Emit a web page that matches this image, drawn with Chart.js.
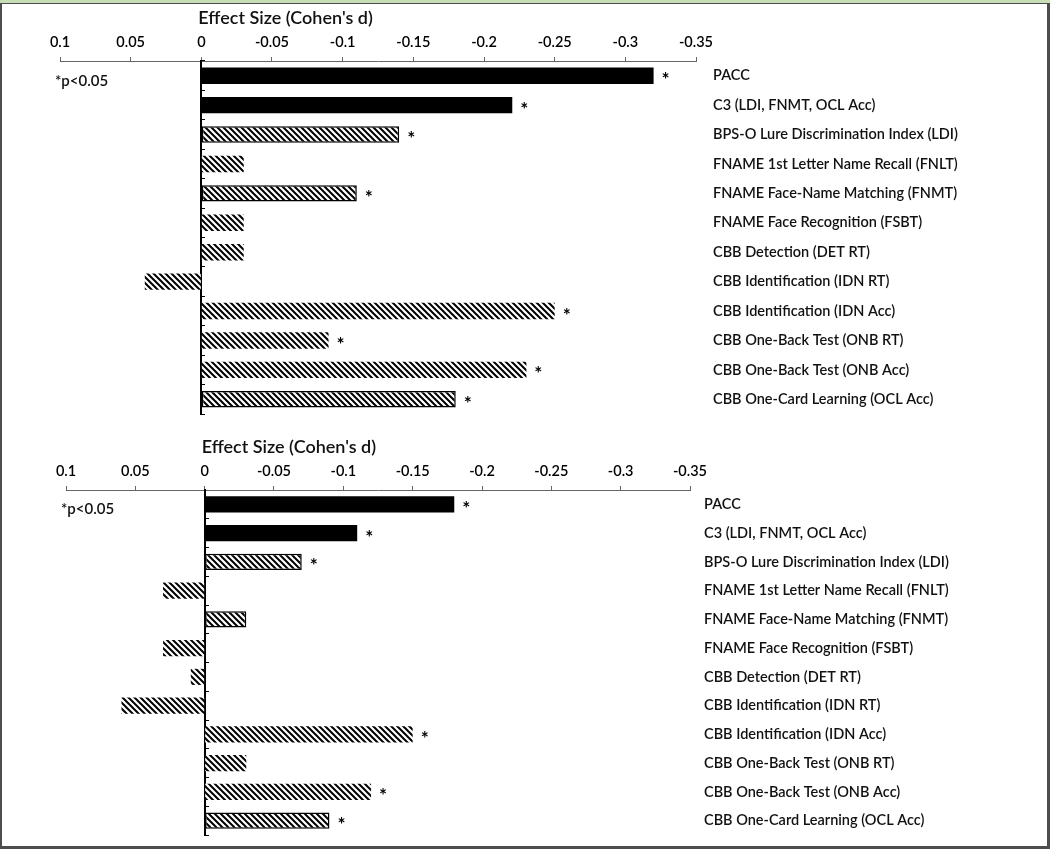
<!DOCTYPE html>
<html>
<head>
<meta charset="utf-8">
<script src="https://cdn.jsdelivr.net/npm/chart.js@4.4.1/dist/chart.umd.min.js"></script>
<style>
  html, body { margin: 0; padding: 0; background: #fff; }
  body { width: 1050px; height: 849px; position: relative; overflow: hidden; }
  #strip { position: absolute; left: 0; top: 0; width: 1050px; height: 3px; background: #c9deb5; }
  #frame { position: absolute; left: 0; top: 3px; width: 1050px; height: 846px; box-sizing: border-box;
           border-style: solid; border-color: #4d4d4d; border-width: 1px 3px 3px 2px; }
  canvas { position: absolute; left: 0; }
</style>
</head>
<body>
<div id="strip"></div>
<div id="frame"></div>
<canvas id="topChart" width="1050" height="425" style="top:0"></canvas>
<canvas id="bottomChart" width="1050" height="421" style="top:425px"></canvas>
<script>
const categories = [
  'PACC',
  'C3 (LDI, FNMT, OCL Acc)',
  'BPS-O Lure Discrimination Index (LDI)',
  'FNAME 1st Letter Name Recall (FNLT)',
  'FNAME Face-Name Matching (FNMT)',
  'FNAME Face Recognition (FSBT)',
  'CBB Detection (DET RT)',
  'CBB Identification (IDN RT)',
  'CBB Identification (IDN Acc)',
  'CBB One-Back Test (ONB RT)',
  'CBB One-Back Test (ONB Acc)',
  'CBB One-Card Learning (OCL Acc)'
];
// composite scores, the C3 parts, and the rest
const measureType = ['composite', 'composite', 'component', 'other', 'component', 'other',
                     'other', 'other', 'other', 'other', 'other', 'component'];

const topValues = [-0.32, -0.22, -0.14, -0.03, -0.11, -0.03, -0.03, 0.04, -0.25, -0.09, -0.23, -0.18];
const topSignificant = [true, true, true, false, true, false, false, false, true, true, true, true];

const bottomValues = [-0.18, -0.11, -0.07, 0.03, -0.03, 0.03, 0.01, 0.06, -0.15, -0.03, -0.12, -0.09];
const bottomSignificant = [true, true, true, false, false, false, false, false, true, false, true, true];

const tickValues = [0.1, 0.05, 0, -0.05, -0.1, -0.15, -0.2, -0.25, -0.3, -0.35];
const axisTitle = "Effect Size (Cohen's d)";
const noteText = '*p<0.05';

function hatchPattern() {
  const c = document.createElement('canvas');
  c.width = c.height = 6;
  const g = c.getContext('2d');
  g.fillStyle = '#fff';
  g.fillRect(0, 0, 6, 6);
  g.strokeStyle = '#000';
  g.lineWidth = 2;
  g.beginPath();
  g.moveTo(-1, -1); g.lineTo(7, 7);
  g.moveTo(-1, 5); g.lineTo(1, 7);
  g.moveTo(5, -1); g.lineTo(7, 1);
  g.stroke();
  return g.createPattern(c, 'repeat');
}
const hatch = hatchPattern();

function makeChart(id, values, significant, box) {
  // asterisks, axis title and the p-value note
  const marks = {
    id: 'marks',
    afterDatasetsDraw(chart) {
      const ctx = chart.ctx;
      const xs = chart.scales.x, ys = chart.scales.y;
      const area = chart.chartArea;
      ctx.save();
      ctx.fillStyle = '#000';
      ctx.font = 'bold 19px Lato';
      ctx.textAlign = 'center';
      ctx.textBaseline = 'alphabetic';
      const m = ctx.measureText('*');
      const dy = (m.actualBoundingBoxAscent - m.actualBoundingBoxDescent) / 2;
      chart.getDatasetMeta(0).data.forEach((bar, i) => {
        if (!significant[i]) return;
        const dir = bar.x >= bar.base ? 1 : -1;
        ctx.fillText('*', bar.x + dir * 12, bar.y + dy);
      });

      ctx.fillStyle = '#111';
      ctx.textAlign = 'left';
      ctx.textBaseline = 'middle';
      ctx.font = '600 18px Lato';
      ctx.fillText(axisTitle, xs.getPixelForValue(0) - 3, area.top - 43);
      ctx.font = '600 15px Lato';
      ctx.fillText(noteText, area.left - 5, ys.getPixelForValue(0) + 5);
      ctx.restore();
    }
  };

  return new Chart(document.getElementById(id), {
    type: 'bar',
    data: {
      labels: categories,
      datasets: [{
        data: values,
        xAxisID: 'x',
        yAxisID: 'y',
        backgroundColor: measureType.map(t => t === 'composite' ? '#000' : hatch),
        borderColor: '#000',
        borderWidth: measureType.map(t => t === 'component' ? 1.5 : 0),
        borderSkipped: false,
        categoryPercentage: 1,
        barPercentage: 0.56
      }]
    },
    options: {
      indexAxis: 'y',
      responsive: false,
      animation: false,
      layout: { padding: { left: box.left, right: 0, top: box.top, bottom: box.bottom } },
      plugins: { legend: { display: false }, tooltip: { enabled: false } },
      scales: {
        x: {
          type: 'linear',
          position: 'top',
          reverse: true,
          min: -0.35,
          max: 0.1,
          afterBuildTicks: s => { s.ticks = tickValues.map(v => ({ value: v })); },
          afterFit: s => { s.height = 30; },
          ticks: {
            callback: v => String(+v.toFixed(2)),
            color: '#000',
            font: { family: 'Lato', size: 14.5, weight: '600' },
            padding: 6,
            maxRotation: 0,
            autoSkip: false
          },
          grid: { drawOnChartArea: false, color: '#666', tickLength: 4 },
          border: { display: true, color: '#666', width: 1 }
        },
        y: {
          type: 'category',
          position: { x: 0 },
          offset: true,
          ticks: { display: false },
          grid: { offset: true, drawOnChartArea: false, color: '#000', tickLength: -5 },
          border: { display: true, color: '#000', width: 2 }
        },
        names: {
          type: 'category',
          axis: 'y',
          position: 'right',
          offset: true,
          afterFit: s => {
            s.width = 1050 - box.right;
            s.paddingTop = 0;
            s.paddingBottom = 0;
          },
          grid: { display: false, drawTicks: false },
          border: { display: false },
          ticks: {
            color: '#111',
            font: { family: 'Lato', size: 14.5, weight: '600' },
            padding: box.labelPad,
            autoSkip: false
          }
        }
      }
    },
    plugins: [marks]
  });
}

makeChart('topChart', topValues, topSignificant, { left: 60, right: 696, top: 31, bottom: 11, labelPad: 17 });
makeChart('bottomChart', bottomValues, bottomSignificant, { left: 66, right: 690, top: 35, bottom: 11, labelPad: 14 });
</script>
</body>
</html>
